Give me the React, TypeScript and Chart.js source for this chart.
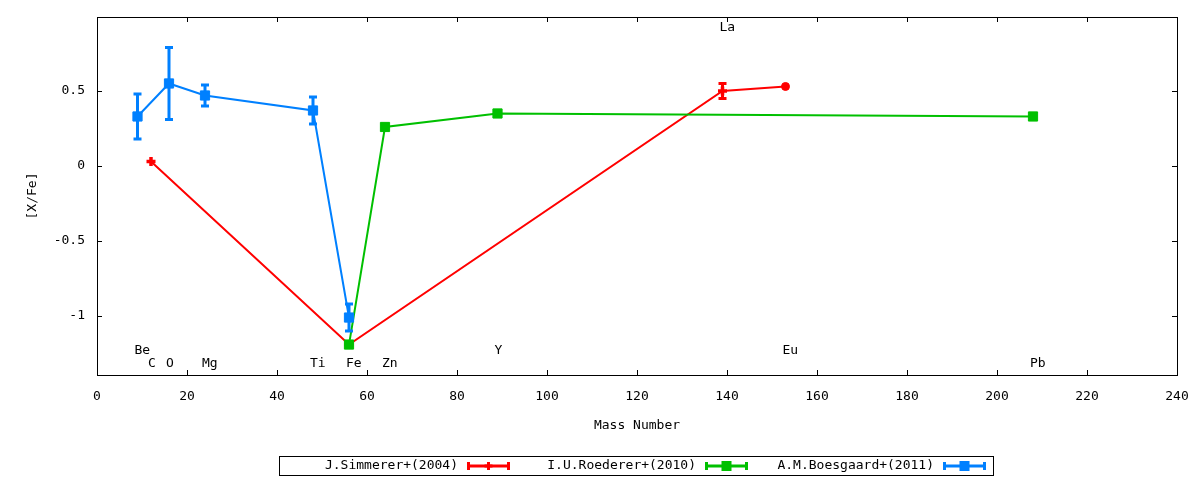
import React, { useEffect, useRef } from "react";
import { Chart, registerables } from "chart.js";

Chart.register(...registerables);

// ---- data ----
const xTickValues = [0, 20, 40, 60, 80, 100, 120, 140, 160, 180, 200, 220, 240];
const yTickValues = [-1, -0.5, 0, 0.5];

const simmererMass = [12, 56, 139, 153];
const simmererValue = [0.03, -1.19, 0.5, 0.53];
const simmererErr = [0, 0, 0.05, 0];

const roedererMass = [56, 64, 89, 208];
const roedererValue = [-1.19, 0.26, 0.35, 0.33];
const roedererErr = [0, 0, 0, 0];

const boesgaardMass = [9, 16, 24, 48, 56];
const boesgaardValue = [0.33, 0.55, 0.47, 0.37, -1.01];
const boesgaardErr = [0.15, 0.24, 0.07, 0.09, 0.09];

const elementNames = ["Be", "C", "O", "Mg", "Ti", "Fe", "Zn", "Y", "La", "Eu", "Pb"];
const elementMass = [9, 12, 16, 24, 48, 56, 64, 89, 139, 153, 208];
const elementLabelY = [-1.22, -1.31, -1.31, -1.31, -1.31, -1.31, -1.31, -1.22, 0.93, -1.22, -1.31];

const seriesNames = ["J.Simmerer+(2004)", "I.U.Roederer+(2010)", "A.M.Boesgaard+(2011)"];
const seriesColors = ["#ff0000", "#00c000", "#0080ff"];

const FONT = '13px "DejaVu Sans Mono"';

export default function App() {
  const ref = useRef<HTMLCanvasElement | null>(null);

  useEffect(() => {
    const canvas = ref.current;
    if (!canvas) return;

    const errs = [simmererErr, roedererErr, boesgaardErr];

    const drawMarker = (ctx: CanvasRenderingContext2D, idx: number, x: number, y: number) => {
      ctx.fillStyle = seriesColors[idx];
      ctx.strokeStyle = seriesColors[idx];
      if (idx === 0) {
        ctx.lineWidth = 3;
        ctx.beginPath();
        ctx.moveTo(x - 4, y);
        ctx.lineTo(x + 4, y);
        ctx.moveTo(x, y - 4);
        ctx.lineTo(x, y + 4);
        ctx.stroke();
      } else {
        ctx.fillRect(x - 5, y - 5, 10, 10);
      }
    };

    const plugin = {
      id: "gnuplotDecor",
      afterDatasetsDraw(chart: any) {
        const ctx: CanvasRenderingContext2D = chart.ctx;
        const ys = chart.scales.y;
        chart.data.datasets.forEach((ds: any, di: number) => {
          const meta = chart.getDatasetMeta(di);
          const e = errs[di];
          ds.data.forEach((p: any, i: number) => {
            if (!e[i]) return;
            const el = meta.data[i];
            const x = el.x;
            const yt = ys.getPixelForValue(p.y + e[i]);
            const yb = ys.getPixelForValue(p.y - e[i]);
            ctx.save();
            ctx.strokeStyle = seriesColors[di];
            ctx.lineWidth = 3;
            ctx.beginPath();
            ctx.moveTo(x, yt);
            ctx.lineTo(x, yb);
            ctx.moveTo(x - 4, yt);
            ctx.lineTo(x + 4, yt);
            ctx.moveTo(x - 4, yb);
            ctx.lineTo(x + 4, yb);
            ctx.stroke();
            ctx.restore();
          });
        });
      },
      afterDraw(chart: any) {
        const ctx: CanvasRenderingContext2D = chart.ctx;
        const a = chart.chartArea;
        const xs = chart.scales.x;
        const ys = chart.scales.y;
        ctx.save();
        ctx.strokeStyle = "#000";
        ctx.lineWidth = 1;
        ctx.strokeRect(Math.round(a.left) + 0.5, Math.round(a.top) + 0.5, Math.round(a.right - a.left), Math.round(a.bottom - a.top));
        ctx.beginPath();
        xTickValues.forEach((v) => {
          const px = Math.round(xs.getPixelForValue(v)) + 0.5;
          ctx.moveTo(px, a.bottom);
          ctx.lineTo(px, a.bottom - 5);
          ctx.moveTo(px, a.top);
          ctx.lineTo(px, a.top + 5);
        });
        yTickValues.forEach((v) => {
          const py = Math.round(ys.getPixelForValue(v)) + 0.5;
          ctx.moveTo(a.left, py);
          ctx.lineTo(a.left + 5, py);
          ctx.moveTo(a.right, py);
          ctx.lineTo(a.right - 5, py);
        });
        ctx.stroke();

        ctx.fillStyle = "#000";
        ctx.font = FONT;
        ctx.textAlign = "left";
        ctx.textBaseline = "middle";
        elementNames.forEach((n, i) => {
          ctx.fillText(n, xs.getPixelForValue(elementMass[i]) - 3, ys.getPixelForValue(elementLabelY[i]) + 1.5);
        });

        ctx.textAlign = "center";
        ctx.fillText("Mass Number", (a.left + a.right) / 2, 426);
        ctx.save();
        ctx.translate(33, (a.top + a.bottom) / 2);
        ctx.rotate(-Math.PI / 2);
        ctx.fillText("[X/Fe]", 0, 0);
        ctx.restore();

        const bx = 279, by = 456, bw = 714, bh = 19;
        ctx.strokeStyle = "#000";
        ctx.lineWidth = 1;
        ctx.strokeRect(bx + 0.5, by + 0.5, bw, bh);
        const ly = by + bh / 2 + 0.5;
        seriesNames.forEach((name, i) => {
          const start = bx + i * 238;
          ctx.fillStyle = "#000";
          ctx.textAlign = "right";
          ctx.textBaseline = "middle";
          ctx.fillText(name, start + 179, ly);
          const s0 = start + 188, s1 = start + 231;
          ctx.strokeStyle = seriesColors[i];
          ctx.lineWidth = 3;
          ctx.beginPath();
          ctx.moveTo(s0, ly);
          ctx.lineTo(s1, ly);
          ctx.moveTo(s0 + 1.5, ly - 4);
          ctx.lineTo(s0 + 1.5, ly + 4);
          ctx.moveTo(s1 - 1.5, ly - 4);
          ctx.lineTo(s1 - 1.5, ly + 4);
          ctx.stroke();
          drawMarker(ctx, i, (s0 + s1) / 2, ly);
        });
        ctx.restore();
      },
    };

    const toPts = (xs: number[], ys: number[]) => xs.map((x, i) => ({ x, y: ys[i] }));

    const chart = new Chart(canvas, {
      type: "scatter",
      data: {
        datasets: [
          {
            label: seriesNames[0],
            data: toPts(simmererMass, simmererValue),
            showLine: true,
            borderColor: seriesColors[0],
            backgroundColor: seriesColors[0],
            borderWidth: 2,
            pointStyle: ["cross", "cross", "cross", "circle"],
            pointRadius: [4.5, 4.5, 4.5, 4],
            pointBorderWidth: [3.5, 3.5, 3.5, 1],
            order: 2,
          },
          {
            label: seriesNames[1],
            data: toPts(roedererMass, roedererValue),
            showLine: true,
            borderColor: seriesColors[1],
            backgroundColor: seriesColors[1],
            borderWidth: 2,
            pointStyle: "rect",
            pointRadius: 6.5,
            pointBorderWidth: 1,
            order: 1,
          },
          {
            label: seriesNames[2],
            data: toPts(boesgaardMass, boesgaardValue),
            showLine: true,
            borderColor: seriesColors[2],
            backgroundColor: seriesColors[2],
            borderWidth: 2,
            pointStyle: "rect",
            pointRadius: 6.5,
            pointBorderWidth: 1,
            order: 0,
          },
        ],
      },
      options: {
        responsive: false,
        animation: false,
        events: [],
        layout: { padding: { top: 17, right: 23, left: 0, bottom: 0 } },
        plugins: { legend: { display: false }, tooltip: { enabled: false } },
        scales: {
          x: {
            type: "linear",
            min: 0,
            max: 240,
            grid: { display: false, drawTicks: false },
            border: { display: false },
            afterBuildTicks: (s: any) => {
              s.ticks = xTickValues.map((v) => ({ value: v }));
            },
            afterFit: (s: any) => {
              s.height = 105;
              s.paddingLeft = 0;
              s.paddingRight = 0;
            },
            ticks: {
              color: "#000",
              font: { family: "DejaVu Sans Mono", size: 13 },
              padding: 14,
              maxRotation: 0,
              autoSkip: false,
            },
          },
          y: {
            type: "linear",
            min: -1.393,
            max: 0.993,
            grid: { display: false, drawTicks: false },
            border: { display: false },
            afterBuildTicks: (s: any) => {
              s.ticks = yTickValues.map((v) => ({ value: v }));
            },
            afterFit: (s: any) => {
              s.width = 97;
              s.paddingTop = 0;
              s.paddingBottom = 0;
            },
            ticks: {
              color: "#000",
              font: { family: "DejaVu Sans Mono", size: 13 },
              padding: 12,
              callback: (v: any) => String(v),
            },
          },
        },
      },
      plugins: [plugin],
    } as any);

    return () => chart.destroy();
  }, []);

  return (
    <div style={{ position: "absolute", left: 0, top: 0, width: 1200, height: 480, background: "#fff" }}>
      <canvas ref={ref} width={1200} height={480} style={{ width: 1200, height: 480 }} />
    </div>
  );
}
